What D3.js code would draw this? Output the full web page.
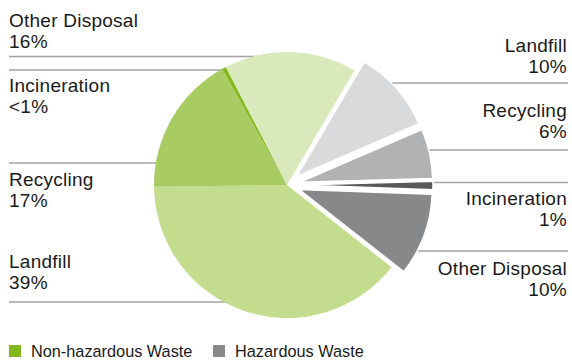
<!DOCTYPE html>
<html>
<head>
<meta charset="utf-8">
<script src="https://cdn.jsdelivr.net/npm/d3@7/dist/d3.min.js"></script>
<style>
  html, body { margin: 0; padding: 0; background: #fff; }
  svg { display: block; }
  text { font-family: "Liberation Sans", Arial, Helvetica, sans-serif; fill: #1a1a1a; }
</style>
</head>
<body>
<svg id="chart" width="572" height="361"></svg>
<script>
// Waste by disposal method, share of total (%)
const groups = ["Non-hazardous Waste", "Hazardous Waste"];
const methods = ["Landfill", "Recycling", "Incineration", "Other Disposal"];
const hazardousValues = [10, 6, 1, 10];
const nonHazardousValues = [39, 17, 0.5, 16];
const hazardousLabels = ["10%", "6%", "1%", "10%"];
const nonHazardousLabels = ["39%", "17%", "<1%", "16%"];

// Colours
const hazardousColors = ["#d9dadb", "#b1b2b3", "#58595b", "#87888a"];
const nonHazardousColors = ["#c4dc8e", "#a8cb62", "#84b81f", "#dae9bc"];
const legendColors = ["#84b81f", "#87888a"];

// Layout
const cx = 287, cy = 185, radius = 133, explode = 13;
const startDeg = 30.5;
// label baselines (first line) and leader-line heights, per method
const leftTextY = [268, 186, 92, 27];
const leftLineY = [302, 163, 70, 56.5];
const rightTextY = [52, 117, 205, 275];
const rightLineY = [83, 150, 182.5, 251];

const slices = [];
methods.forEach((m, i) => slices.push({ group: 1, method: m, value: hazardousValues[i], color: hazardousColors[i] }));
methods.forEach((m, i) => slices.push({ group: 0, method: m, value: nonHazardousValues[i], color: nonHazardousColors[i] }));

const svg = d3.select("#chart");

// Leader lines sit underneath the pie
const lines = svg.append("g").attr("stroke", "#a3a3a3").attr("stroke-width", 1.3);
leftLineY.forEach(y => {
  lines.append("line").attr("x1", 9).attr("x2", cx).attr("y1", y).attr("y2", y);
});
rightLineY.forEach(y => {
  const dy = y - cy;
  const reach = radius + explode - 6;
  const x = cx + Math.sqrt(reach * reach - dy * dy);
  lines.append("line").attr("x1", x).attr("x2", 568).attr("y1", y).attr("y2", y);
});

const pie = d3.pie()
  .value(d => d.value)
  .sort(null)
  .startAngle(startDeg * Math.PI / 180)
  .endAngle(startDeg * Math.PI / 180 + 2 * Math.PI);

const arc = d3.arc().innerRadius(0).outerRadius(radius);

const g = svg.append("g").attr("transform", `translate(${cx},${cy})`);
g.selectAll("path")
  .data(pie(slices))
  .join("path")
  .attr("d", arc)
  .attr("fill", d => d.data.color)
  .attr("stroke", d => d.data.group === 1 ? "#fff" : "none")
  .attr("stroke-width", 1.5)
  .attr("transform", d => {
    if (d.data.group !== 1) return null;
    const mid = (d.startAngle + d.endAngle) / 2;
    return `translate(${explode * Math.sin(mid)},${-explode * Math.cos(mid)})`;
  });

// Labels
const fs = 19, lh = 20.5;
const labels = svg.append("g").style("font-size", fs + "px").style("letter-spacing", "0.25px");
methods.forEach((m, i) => {
  const t = labels.append("text").attr("x", 9).attr("y", leftTextY[i]);
  t.append("tspan").attr("x", 9).text(m);
  t.append("tspan").attr("x", 9).attr("dy", lh).text(nonHazardousLabels[i]);
});
methods.forEach((m, i) => {
  const t = labels.append("text").attr("text-anchor", "end").attr("y", rightTextY[i]);
  t.append("tspan").attr("x", 567).text(m);
  t.append("tspan").attr("x", 567).attr("dy", lh).text(hazardousLabels[i]);
});

// Legend
const legend = svg.append("g").style("font-size", "16.3px");
const legendX = [9, 213];
groups.forEach((name, i) => {
  legend.append("rect").attr("x", legendX[i]).attr("y", 345).attr("width", 12).attr("height", 12).attr("fill", legendColors[i]);
  legend.append("text").attr("x", legendX[i] + 22).attr("y", 356.5).text(name);
});
</script>
</body>
</html>
